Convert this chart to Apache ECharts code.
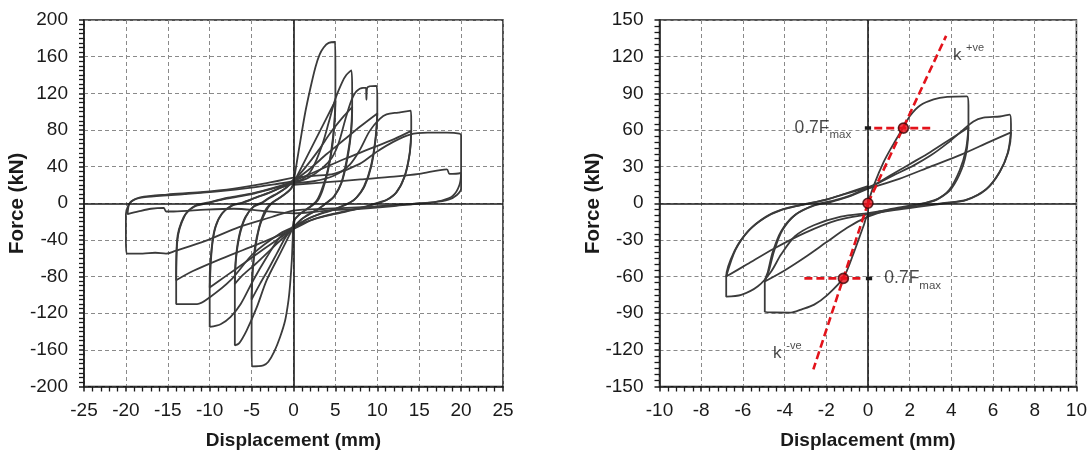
<!DOCTYPE html>
<html><head><meta charset="utf-8">
<script src="https://cdn.jsdelivr.net/npm/echarts@6/dist/echarts.min.js"></script>
<style>html,body{margin:0;padding:0;background:#fff}#c{width:1090px;height:459px}</style>
</head><body><div id="c"></div>
<script>
// ---------- axis definitions ----------
const leftXAxis = [-25, 25, 5];     // min, max, interval (mm)
const leftYAxis = [-200, 200, 40];  // kN
const rightXAxis = [-10, 10, 2];
const rightYAxis = [-150, 150, 30];
const xTitle = 'Displacement (mm)';
const yTitle = 'Force (kN)';

// ---------- left chart: hysteresis loops [displacement, force] ----------
const L5a = [[0,22],[0.4,45],[0.8,67],[1.4,99],[2.0,125],[2.6,148],[3.1,162],[3.6,170],[4.2,175],[4.95,176],[5.0,150],[5.0,112],[4.9,88],[4.6,60],[4.1,35],[3.5,15],[2.9,3],[2.0,-4],[1.0,-10],[0.3,-16],[0,-20],[-0.1,-40],[-0.2,-62],[-0.4,-88],[-0.6,-106],[-1.0,-128],[-1.6,-146],[-2.3,-162],[-3.0,-173],[-3.6,-177],[-4.95,-178],[-5.0,-150],[-5.0,-105],[-4.9,-75],[-4.6,-48],[-4.1,-26],[-3.5,-10],[-2.9,-2],[-2.0,4],[-1.0,10],[-0.3,16],[0,22]];
const L5b = [[0,22],[1.0,40],[2.0,58],[3.0,76],[4.0,94],[5.0,112],[4.85,85],[4.5,57],[4.0,33],[3.3,13],[2.7,2],[1.8,-5],[0.9,-11],[0.2,-17],[0,-24],[-1.0,-38],[-2.0,-55],[-3.0,-72],[-4.0,-88],[-5.0,-105],[-4.85,-72],[-4.5,-46],[-4.0,-24],[-3.3,-9],[-2.7,-1],[-1.8,5],[-0.9,11],[-0.2,17],[0,22]];
const L7a = [[0,24],[1.0,26],[2.2,37],[3.4,63],[4.2,88],[5.0,114],[5.8,132],[6.3,140],[6.9,145],[7.0,125],[7.0,100],[6.9,80],[6.5,52],[5.8,24],[4.9,8],[4.0,1],[3.0,-6],[2.0,-11],[1.0,-17],[0,-26],[-0.4,-33],[-1.6,-55],[-3.2,-84],[-4.4,-114],[-5.6,-139],[-6.5,-153],[-7.0,-155],[-7.0,-120],[-7.0,-88],[-6.9,-62],[-6.5,-36],[-5.8,-16],[-4.8,-4],[-3.8,0],[-3.0,5],[-2.0,10],[-1.0,16],[0,24]];
const L7b = [[0,24],[1.5,40],[3.0,58],[4.5,78],[6.0,95],[7.0,105],[6.85,78],[6.4,50],[5.7,22],[4.8,7],[3.9,0],[2.9,-7],[1.9,-12],[0.9,-18],[0,-28],[-1.5,-40],[-3.0,-53],[-4.5,-66],[-6.0,-78],[-7.0,-88],[-6.85,-60],[-6.4,-34],[-5.7,-15],[-4.7,-3],[-3.7,1],[-2.9,6],[-1.9,11],[-0.9,17],[0,26]];
const L10a = [[0,22],[1.8,28],[3.4,38],[4.6,50],[5.4,66],[6.2,92],[6.9,112],[7.5,122],[8.3,126],[8.65,126],[8.7,113],[8.8,126],[9.9,128],[10.0,115],[10.0,98],[9.8,70],[9.3,41],[8.5,19],[7.6,7],[6.8,1],[5.0,-6],[3.0,-12],[1.5,-18],[0,-26],[-1.6,-37],[-3.2,-59],[-4.8,-84],[-6.3,-110],[-7.5,-124],[-8.7,-132],[-10.0,-135],[-10.0,-110],[-10.0,-82],[-9.8,-52],[-9.4,-28],[-8.6,-12],[-7.4,-3],[-6.2,0],[-4.5,6],[-3.0,11],[-1.5,17],[0,22]];
const L10b = [[0,24],[2,38],[4,54],[6,69],[8,84],[10.0,98],[9.75,68],[9.2,39],[8.4,18],[7.5,6],[6.6,0],[4.8,-7],[2.8,-13],[1.3,-19],[0,-28],[-2,-40],[-4,-53],[-6,-66],[-8,-79],[-10.0,-92],[-9.75,-50],[-9.3,-26],[-8.5,-11],[-7.3,-2],[-6.0,1],[-4.3,7],[-2.8,12],[-1.3,18],[0,24]];
const L14a = [[0,22],[2.4,24],[4.8,30],[6.7,42],[7.9,58],[9.1,79],[10.3,92],[11.1,97],[12.5,99],[14.0,101],[14.05,90],[14.05,79],[13.9,56],[13.3,30],[12.3,12],[11.2,4],[10.2,1],[8.0,-5],[5.0,-11],[2.5,-17],[0,-26],[-1.6,-33],[-4.8,-55],[-7.5,-84],[-9.9,-102],[-11.5,-110],[-14.0,-110],[-14.0,-95],[-14.0,-84],[-13.9,-41],[-13.1,-15],[-11.9,-4],[-10.3,0],[-8.0,5],[-5.0,10],[-2.5,16],[0,22]];
const L14b = [[0,24],[3,36],[6,48],[9,59],[12,70],[14.05,79],[13.85,54],[13.2,28],[12.2,11],[11.0,3],[10.0,0],[7.8,-6],[4.8,-12],[2.3,-18],[0,-28],[-3,-40],[-6,-51],[-9,-62],[-12,-74],[-14.0,-84],[-13.85,-40],[-13.0,-14],[-11.8,-3],[-10.1,1],[-7.8,6],[-4.8,11],[-2.3,17],[0,24]];
const L20a = [[0,28],[2.4,30],[4.8,32],[7.9,43],[9.9,56],[11.9,67],[13.9,75],[16.0,77],[18.3,77],[19.8,76],[20.0,74],[20.0,50],[20.0,35],[19.8,20],[19.0,8],[17.7,3],[15.7,0],[12.0,-2],[8.7,-4],[4.0,-6],[0,-8],[-2.6,-15],[-6.5,-26],[-10.5,-41],[-14.1,-52],[-15.2,-55],[-16.5,-54],[-18.0,-55],[-19.9,-55],[-20.0,-40],[-20.0,-12],[-19.7,-2],[-19.2,3],[-18.3,6.5],[-15.1,9.5],[-11.1,12],[-7.1,16],[-3.2,22],[0,28]];
const L20b = [[0,20],[4,23],[8,26],[12,29],[15,32],[18.3,37],[18.6,32],[19.0,32],[20.0,33],[20.0,16],[19.5,9],[18.5,4],[16.7,1],[15.0,0],[12.0,-3],[8.0,-6],[4.0,-8],[0,-11],[-4.0,-8],[-7.1,-6],[-10.5,-7],[-14.3,-9],[-15.2,-9],[-15.5,-5],[-17.0,-6],[-18.5,-9],[-19.8,-12],[-19.6,-1],[-19.0,4],[-17.5,7],[-13.0,10],[-9.0,13],[-5.0,17],[-2.0,21],[0,24]];

// ---------- right chart: loops ----------
const RA1 = [[0,0],[0.29,15],[0.76,34],[1.24,49],[1.69,62],[2.04,72],[2.5,80],[3.15,85],[3.8,87],[4.75,87.5],[4.82,80],[4.82,62],[4.75,45],[4.5,28],[4.0,12],[3.4,4],[2.8,0.5],[2.0,-2],[1.0,-5],[0,-10],[-0.2,-18],[-0.67,-40],[-1.18,-61],[-1.94,-75],[-2.58,-83],[-3.2,-87],[-3.7,-89.5],[-4.95,-89],[-4.95,-75],[-4.95,-64],[-4.8,-56],[-4.57,-40],[-4.17,-23],[-3.53,-10],[-2.6,-2],[-1.8,1],[-1.0,5],[0,12]];
const RA2 = [[0,12],[1.0,22],[2.0,32],[3.0,42],[4.0,53],[4.82,62],[4.7,44],[4.4,27],[3.9,11],[3.3,3],[2.7,0],[1.9,-3],[0.9,-6],[0,-11],[-1.0,-20],[-2.0,-32],[-3.0,-44],[-4.0,-55],[-4.95,-64],[-4.75,-55],[-4.5,-39],[-4.1,-22],[-3.45,-9],[-2.5,-1],[-1.7,2],[-0.9,6],[0,13]];
const RB1 = [[0,13],[0.3,15],[1.24,23],[2.2,31],[3.0,39],[3.8,49],[4.42,58],[5.06,67],[5.54,70],[6.33,71],[6.8,72.5],[6.86,65],[6.86,58],[6.73,42],[6.33,26],[5.7,12],[4.74,3],[3.8,0.5],[2.5,-2],[1.2,-5],[0,-8],[-1.3,-11],[-2.6,-18],[-3.5,-27],[-4.17,-42],[-4.65,-56],[-5.28,-68],[-6.08,-75],[-6.8,-76.5],[-6.8,-68],[-6.8,-60],[-6.4,-39],[-5.76,-23],[-4.96,-12],[-4.17,-5.6],[-3.2,-1.5],[-2.1,2.6],[-1.0,8],[0,13]];
const RB2 = [[0,12],[1.5,20],[3.0,30],[4.5,40],[5.8,50],[6.86,58],[6.7,41],[6.3,25],[5.65,11],[4.7,2.5],[3.7,0],[2.4,-3],[1.1,-6],[0,-9],[-1.5,-14],[-3.0,-24],[-4.5,-37],[-5.8,-50],[-6.8,-60],[-6.35,-38],[-5.7,-22],[-4.9,-11],[-4.1,-5],[-3.1,-1],[-2.0,3],[-0.9,9],[0,14]];

// ---------- right chart: stiffness annotations ----------
const kPos = [[0,0],[3.75,137]];
const kNeg = [[0,0],[-2.62,-136]];
const fLevelPos = [[0.3,61.5],[3.05,61.5]];
const fLevelNeg = [[-3.05,-61.5],[-0.3,-61.5]];
const tickPos = [[-0.15,61.5],[0.15,61.5]];
const tickNeg = [[-0.1,-61.5],[0.2,-61.5]];
const keyPoints = [[0,0],[1.7,61.5],[-1.18,-61.5]];
const fLabelPos = [-0.78, 61.5];
const fLabelNeg = [0.76, -61.5];
const kPosLabel = [4.05, 121];
const kNegLabel = [-4.58, -123];

const FONT = "'Liberation Sans Narrow','Arial Narrow','Liberation Sans',Arial,sans-serif";
const INK = '#1a1a1a';
const LOOP = '#3b3b3b';
const RED = '#e3131b';

function xAxisDef(gi, r, minorSplit) {
  return {type:'value', gridIndex:gi, min:r[0], max:r[1], interval:r[2],
    name:xTitle, nameLocation:'middle', nameGap:45, nameMoveOverlap:false,
    nameTextStyle:{fontFamily:FONT, fontWeight:'bold', fontSize:19, color:INK},
    axisLine:{onZero:false, lineStyle:{color:INK, width:1.5}},
    axisTick:{show:true, inside:false, length:5, lineStyle:{color:INK, width:1.5}},
    minorTick:{show:true, splitNumber:minorSplit, length:5, lineStyle:{color:INK, width:1.3}},
    splitLine:{show:true, lineStyle:{color:'#8a8a8a', type:[4,3], width:1}},
    axisLabel:{fontFamily:FONT, fontSize:19, color:INK, margin:15}};
}
function yAxisDef(gi, r, minorSplit) {
  return {type:'value', gridIndex:gi, min:r[0], max:r[1], interval:r[2],
    name:yTitle, nameLocation:'middle', nameGap:56, nameRotate:90, nameMoveOverlap:false,
    nameTextStyle:{fontFamily:FONT, fontWeight:'bold', fontSize:20.5, color:INK},
    axisLine:{onZero:false, lineStyle:{color:INK, width:1.5}},
    axisTick:{show:true, inside:false, length:5, lineStyle:{color:INK, width:1.5}},
    minorTick:{show:true, splitNumber:minorSplit, length:5, lineStyle:{color:INK, width:1.3}},
    splitLine:{show:true, lineStyle:{color:'#8a8a8a', type:[4,3], width:1}},
    axisLabel:{fontFamily:FONT, fontSize:19, color:INK, margin:16}};
}
function zeroLines() {
  return {silent:true, symbol:['none','none'], label:{show:false}, animation:false,
    lineStyle:{color:INK, width:1.6, type:'solid'}, data:[{xAxis:0},{yAxis:0}]};
}
function loop(data, gi, withZero) {
  const s = {type:'line', xAxisIndex:gi, yAxisIndex:gi, data:data, showSymbol:false,
    smooth:0.3, smoothMonotone:null, lineStyle:{color:LOOP, width:1.8}, z:3, silent:true};
  if (withZero) s.markLine = zeroLines();
  return s;
}
function redLine(data, dashed, color, width) {
  return {type:'line', xAxisIndex:1, yAxisIndex:1, data:data, showSymbol:false, silent:true,
    lineStyle:{color:color, width:width, type: dashed ? [8,4] : 'solid'}, z:5};
}
const richText = {
  a:{fontFamily:FONT, fontSize:17.5, color:INK, lineHeight:26, verticalAlign:'middle'},
  sub:{fontFamily:FONT, fontSize:11.5, color:INK, lineHeight:12, verticalAlign:'bottom'},
  k:{fontFamily:FONT, fontSize:17, color:INK, lineHeight:26, verticalAlign:'middle'},
  sup:{fontFamily:FONT, fontSize:11, color:INK, lineHeight:11, verticalAlign:'top'}
};
function textMark(pt, text, pos) {
  return {type:'scatter', xAxisIndex:1, yAxisIndex:1, data:[pt], symbolSize:1, silent:true,
    itemStyle:{color:'rgba(0,0,0,0)'}, z:6,
    label:{show:true, position:pos, distance:0, formatter:text, rich:richText}};
}

const chart = echarts.init(document.getElementById('c'), null, {renderer:'canvas'});
chart.setOption({
  animation:false,
  backgroundColor:'#fff',
  grid:[
    {left:84, top:20, width:419, height:366.5, show:true, borderColor:INK, borderWidth:1.5},
    {left:659.5, top:20, width:419, height:366.5, show:true, borderColor:INK, borderWidth:1.5}
  ],
  xAxis:[xAxisDef(0, leftXAxis, 5), xAxisDef(1, rightXAxis, 5)],
  yAxis:[yAxisDef(0, leftYAxis, 8), yAxisDef(1, rightYAxis, 6)],
  series:[
    loop(L5a,0,true), loop(L5b,0), loop(L7a,0), loop(L7b,0), loop(L10a,0), loop(L10b,0),
    loop(L14a,0), loop(L14b,0), loop(L20a,0), loop(L20b,0),
    loop(RA1,1,true), loop(RA2,1), loop(RB1,1), loop(RB2,1),
    redLine(kPos, true, RED, 2.6), redLine(kNeg, true, RED, 2.6),
    redLine(fLevelPos, true, RED, 2.6), redLine(fLevelNeg, true, RED, 2.6),
    redLine(tickPos, false, INK, 3.5), redLine(tickNeg, false, INK, 3.5),
    {type:'scatter', xAxisIndex:1, yAxisIndex:1, data:keyPoints, symbolSize:10, silent:true, z:7,
      itemStyle:{color:'#e8101a', borderColor:'#3a0606', borderWidth:1.6}},
    textMark(fLabelPos, '{a|0.7F}{sub|max}', 'left'),
    textMark(fLabelNeg, '{a|0.7F}{sub|max}', 'right'),
    textMark(kPosLabel, '{k|k }{sup|+ve}', 'right'),
    textMark(kNegLabel, '{k|k }{sup|-ve}', 'right')
  ]
});
</script>
</body></html>
